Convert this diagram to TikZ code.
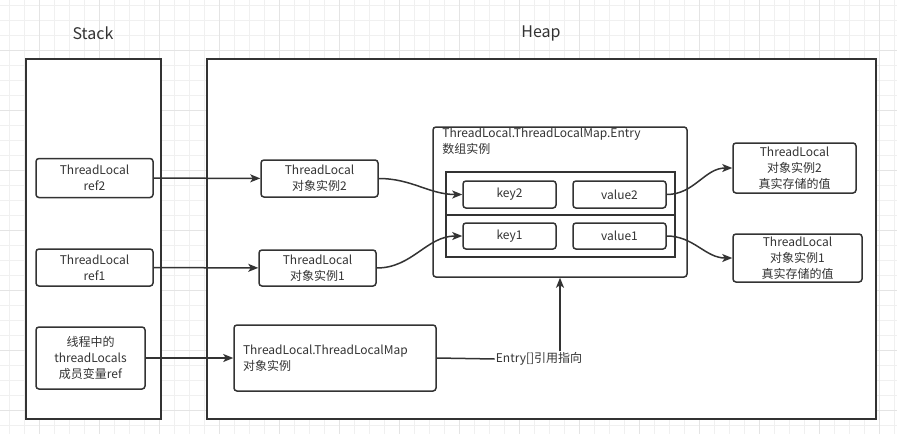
\documentclass[tikz,border=0pt]{standalone}
\usepackage{fontspec}
\setmainfont{Noto Sans CJK SC}
\usepackage{tikz}
\usetikzlibrary{arrows.meta, positioning}
\definecolor{InkGray}{RGB}{51,51,51}
\definecolor{GridMinor}{RGB}{240,240,240}
\definecolor{GridMajor}{RGB}{228,228,228}

\begin{document}
\begin{tikzpicture}[x=1pt, y=-1pt, font=\fontsize{12}{16}\selectfont, text=InkGray,
	bx/.style={draw=InkGray, line width=1.5pt, fill=white, rounded corners=3pt, align=center, inner sep=0pt},
	pane/.style={draw=InkGray, line width=1.7pt, fill=white},
	fl/.style={-{Stealth[length=10pt, width=8pt, inset=2.5pt]}, line width=1.5pt, InkGray}]
	\useasboundingbox (0,0) rectangle (897,434);
	% grid
	\fill[white] (0,0) rectangle (897,434);
	\foreach \x in {9.3,24.3,...,897} \draw[GridMinor, line width=0.8pt] (\x,0) -- (\x,434);
	\foreach \y in {5,20,...,434} \draw[GridMinor, line width=0.8pt] (0,\y) -- (897,\y);
	\foreach \x in {39.3,99.3,...,897} \draw[GridMajor, line width=0.8pt] (\x,0) -- (\x,434);
	\foreach \y in {50,110,...,434} \draw[GridMajor, line width=0.8pt] (0,\y) -- (897,\y);
	% stack / heap
	\node[font=\fontsize{16}{20}\selectfont] (stackT) at (93,33) {Stack};
	\node[font=\fontsize{16}{20}\selectfont] (heapT) at (541,33) {Heap};
	\draw[pane] (26,59) rectangle (161,419);
	\draw[pane] (207,59) rectangle (876,419);
	% stack refs
	\node[bx, minimum width=117, minimum height=39] (ref2) at (94.5,178) {ThreadLocal\\ref2};
	\node[bx, minimum width=117, minimum height=37] (ref1) at (94.5,267.5) {ThreadLocal\\ref1};
	\node[bx, minimum width=109, minimum height=62] (tlref) at (90.5,358) {线程中的\\threadLocals\\成员变量ref};
	% heap objects
	\node[bx, minimum width=117, minimum height=37] (inst2) at (319.5,178.5) {ThreadLocal\\对象实例2};
	\node[bx, minimum width=117, minimum height=36] (inst1) at (317.5,268) {ThreadLocal\\对象实例1};
	\node[bx, minimum width=202, minimum height=66, text width=184, inner xsep=9pt, align=left] (map) at (335,358)
		{ThreadLocal.ThreadLocalMap\\对象实例};
	% entry array
	\node[bx, minimum width=254, minimum height=150,
		label={[anchor=north west, align=left, inner sep=0pt, xshift=10pt, yshift=-1pt]north west:ThreadLocal.ThreadLocalMap.Entry\\数组实例}]
		(entry) at (560,202) {};
	\node[bx, rounded corners=0pt, minimum width=229, minimum height=43] (row2) at (560.5,193.5) {};
	\node[bx, rounded corners=0pt, minimum width=229, minimum height=42] (row1) at (560.5,236) {};
	\node[bx, minimum width=93, minimum height=27] (key2) at (509.5,194.5) {key2};
	\node[bx, minimum width=93, minimum height=27] (value2) at (619.5,194.5) {value2};
	\node[bx, minimum width=93, minimum height=26] (key1) at (509.5,236) {key1};
	\node[bx, minimum width=93, minimum height=26] (value1) at (619.5,236) {value1};
	% stored values
	\node[bx, minimum width=123, minimum height=50] (real2) at (794.5,168) {ThreadLocal\\对象实例2\\真实存储的值};
	\node[bx, minimum width=129, minimum height=48] (real1) at (797.5,258) {ThreadLocal\\对象实例1\\真实存储的值};
	\node[inner sep=1pt] (lbl) at (539,359) {Entry[]引用指向};
	% links
	\draw[fl] (ref2) -- (inst2);
	\draw[fl] (ref1) -- (inst1);
	\draw[fl] (tlref) -- (map);
	\draw[fl] (inst2.east) to[out=0, in=180] (key2.west);
	\draw[fl] (inst1.east) to[out=0, in=180] (key1.west);
	\draw[fl] (value2.east) to[out=0, in=180] (real2.west);
	\draw[fl] (value1.east) to[out=0, in=180] (real1.west);
	\draw[line width=1.5pt, InkGray] (map.east) -- (lbl.west);
	\draw[fl] (lbl.north -| entry.south) -- (entry.south);
\end{tikzpicture}
\end{document}
